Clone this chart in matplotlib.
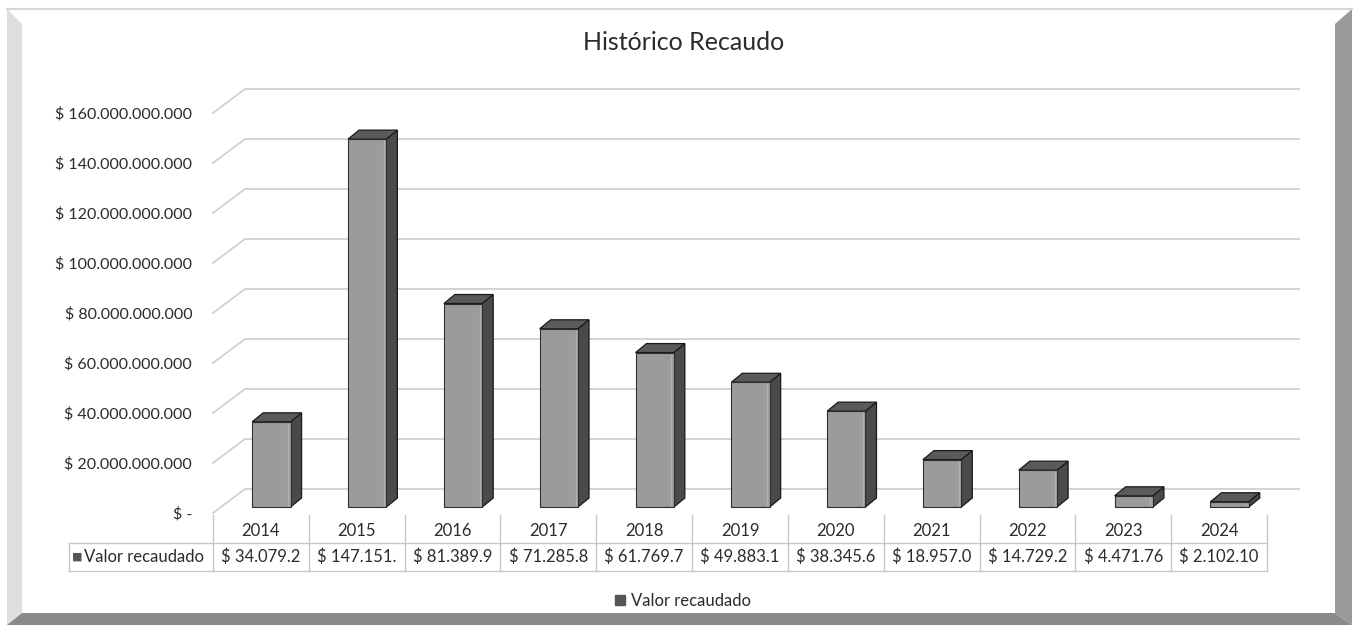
import matplotlib.pyplot as plt
import numpy as np
from matplotlib.patches import Polygon, Rectangle, Patch
from matplotlib.transforms import blended_transform_factory

# data (pesos)
years = ['2014', '2015', '2016', '2017', '2018', '2019', '2020', '2021', '2022', '2023', '2024']
valores = [34079200000, 147151000000, 81389900000, 71285800000, 61769700000,
           49883100000, 38345600000, 18957000000, 14729200000, 4471760000, 2102100000]
serie = 'Valor recaudado'
yticks = [0, 20e9, 40e9, 60e9, 80e9, 100e9, 120e9, 140e9, 160e9]

W, H = 1353, 625
plt.rcParams['font.family'] = ['Lato', 'DejaVu Sans']
fig = plt.figure(figsize=(W / 100, H / 100), dpi=100)
fig.patch.set_facecolor('white')
TXT = '#2b2b2b'


def fx(px):
    return px / W


def fy(py):
    return 1 - py / H


def fpts(pts):
    return [(fx(a), fy(b)) for a, b in pts]


# beveled frame around the chart
fig.add_artist(Polygon(fpts([(7, 9), (22, 24), (22, 613), (7, 625)]), closed=True,
                       facecolor='#dedede', edgecolor='none', transform=fig.transFigure))
fig.add_artist(Polygon(fpts([(1352, 9), (1335, 24), (1335, 613), (1352, 625)]), closed=True,
                       facecolor='#9a9a9a', edgecolor='none', transform=fig.transFigure))
fig.add_artist(Polygon(fpts([(7, 625), (22, 613), (1335, 613), (1352, 625)]), closed=True,
                       facecolor='#8a8a8a', edgecolor='none', transform=fig.transFigure))
fig.add_artist(plt.Line2D([fx(7), fx(1352)], [fy(9), fy(9)], color='#d6d6d6', lw=1.5,
                          transform=fig.transFigure))

ax = fig.add_axes([fx(213), fy(513), fx(1267) - fx(213), (513 - 113) / H])
ax.set_xlim(-0.5, len(years) - 0.5)
ax.set_ylim(0, 160e9)
ax.patch.set_visible(False)
for s in ax.spines.values():
    s.set_visible(False)

# pixel -> data size
inv = ax.transData.inverted()
p0 = inv.transform((0, 0))
p1 = inv.transform((1, 1))
sx, sy = p1[0] - p0[0], p1[1] - p0[1]

back_dx, back_dy = 32 * sx, 24 * sy     # depth of the wall
bar_ox, bar_oy = 10.5 * sx, 6 * sy      # bars sit inside the depth
dep_x, dep_y = 11 * sx, 9 * sy          # bar depth
bw = 0.4

# gridlines on the wall + floor
x0, x1 = -0.5, len(years) - 0.5
for t in yticks:
    ax.plot([x0, x0 + back_dx, x1 + back_dx], [t, t + back_dy, t + back_dy],
            color='#d0d0d0', lw=1.3, zorder=1, clip_on=False)

# 3d bars
for i, v in enumerate(valores):
    left = i - bw / 2 + bar_ox
    right = left + bw
    b = bar_oy
    top = v + bar_oy
    front = Rectangle((left, b), bw, v, facecolor='#9b9b9b', edgecolor='#2e2e2e', lw=0.8, zorder=4)
    ax.add_patch(front)
    ax.plot([right - 2.5 * sx, right - 2.5 * sx], [b + 2 * sy, top - 2 * sy], color='#b0b0b0', lw=1, zorder=5)
    side = Polygon([(right, b), (right + dep_x, b + dep_y), (right + dep_x, top + dep_y), (right, top)],
                   closed=True, facecolor='#4a4a4a', edgecolor='#1a1a1a', lw=0.9, zorder=3)
    ax.add_patch(side)
    topf = Polygon([(left, top), (right, top), (right + dep_x, top + dep_y), (left + dep_x, top + dep_y)],
                   closed=True, facecolor='#5a5a5a', edgecolor='#1a1a1a', lw=0.9, zorder=3)
    ax.add_patch(topf)

# y axis labels
ylabels = ['$ -' if t == 0 else '$ ' + f'{t:,.0f}'.replace(',', '.') for t in yticks]
ax.set_yticks(yticks)
ax.set_yticklabels(ylabels)
ax.set_xticks([])
ax.tick_params(axis='y', length=0, pad=15, labelsize=11.5, labelcolor=TXT)

# data table under the chart
trans = blended_transform_factory(ax.transData, ax.transAxes)
r_top, r_mid, r_bot = -0.005, -0.075, -0.145
hx = -2.0
line_kw = dict(color='#c8c8c8', lw=1, transform=trans, clip_on=False)
for k in range(len(years) + 1):
    ax.plot([k - 0.5, k - 0.5], [r_top, r_bot], **line_kw)
ax.plot([hx, hx], [r_mid, r_bot], **line_kw)
ax.plot([hx, x1], [r_mid, r_mid], **line_kw)
ax.plot([hx, x1], [r_bot, r_bot], **line_kw)

for i, (yr, v) in enumerate(zip(years, valores)):
    ax.text(i, (r_top + r_mid) / 2 - 0.004, yr, transform=trans, ha='center', va='center',
            fontsize=12, color=TXT)
    txt = ('$ ' + f'{v:,.0f}'.replace(',', '.'))[:10]
    ax.text(i, (r_mid + r_bot) / 2, txt, transform=trans, ha='center', va='center',
            fontsize=12, color=TXT)

ax.annotate('■', xy=(hx, (r_mid + r_bot) / 2), xycoords=trans, xytext=(3, 0),
            textcoords='offset pixels', va='center', ha='left', fontsize=8,
            color='#555555', family='DejaVu Sans')
ax.annotate(serie, xy=(hx, (r_mid + r_bot) / 2), xycoords=trans, xytext=(15, 0),
            textcoords='offset pixels', va='center', ha='left', fontsize=12, color=TXT)

fig.text(fx(684), fy(43), 'Histórico Recaudo', ha='center', va='center', fontsize=18, color=TXT)

fig.legend(handles=[Patch(facecolor='#555555', edgecolor='#555555')], labels=[serie],
           loc='center', bbox_to_anchor=(fx(683), fy(601)), frameon=False,
           handlelength=0.6, handleheight=0.6, handletextpad=0.4, fontsize=12, labelcolor=TXT)

fig.savefig('out.png', dpi=100)
